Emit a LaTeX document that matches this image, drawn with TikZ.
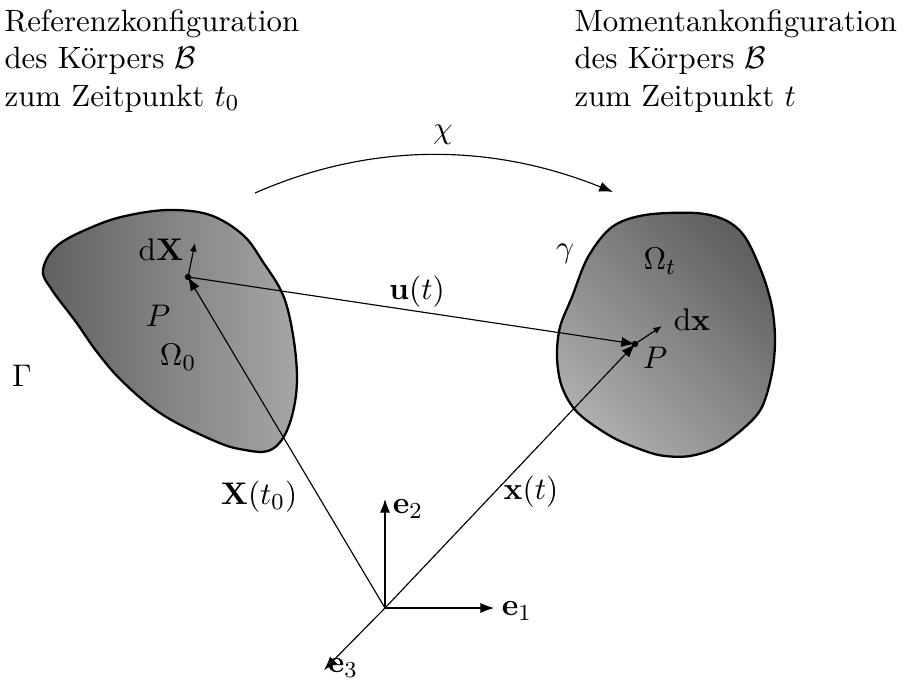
\documentclass[tikz,border=0pt]{standalone}
\usepackage{amsmath}
\usetikzlibrary{arrows.meta}
\begin{document}
\begin{tikzpicture}[x=0.35pt,y=-0.35pt,
  font=\fontsize{10.8}{13.1}\selectfont,
  vec/.style={line width=0.4pt,-{Latex[length=4.8pt,width=3.6pt]}},
  small/.style={line width=0.4pt,-{Latex[length=3pt,width=2.4pt]}},
  outline/.style={line width=0.8pt},
  lbl/.style={inner sep=0pt},
  head/.style={inner sep=0pt,anchor=north west,align=left}]
\useasboundingbox (0,0) rectangle (905,682);
% left body
\shadedraw[left color=black!62,right color=black!35,outline] plot[smooth cycle,tension=0.6] coordinates{
 (43,270) (58,245) (97,225) (130,215) (170,210) (210,215) (243,235) (263,262)
 (283,295) (293,335) (297,378) (293,412) (283,438) (268,451) (245,450) (217,442) (163,415)
 (123,382) (97,352) (76,322) (52,290)};
% right body
\shadedraw[top color=black!62,bottom color=black!32,shading angle=-45,outline] plot[smooth cycle,tension=0.55] coordinates{
 (612,227) (645,215) (695,213) (725,220) (745,237) (762,273) (772,307) (775,340)
 (772,373) (762,407) (745,427) (718,447) (690,456) (665,456) (645,451) (612,437)
 (578,413) (562,387) (557,357) (560,327) (572,297) (588,257)};
% points
\coordinate (O) at (385,608);
\coordinate (P1) at (188,277);
\coordinate (P2) at (635,344);
\coordinate (dXe) at (195,243);
\coordinate (dxe) at (662,326);
\coordinate (e1e) at (494,608);
\coordinate (e2e) at (385,499);
\coordinate (e3e) at (324,670);
\coordinate (chiA) at (255,193);
\coordinate (chiB) at (613,192);
% vectors
\draw[vec] (O) -- (P1);
\draw[vec] (O) -- (P2);
\draw[vec] (P1) -- (P2);
\draw[small] (P1) -- (dXe);
\draw[small] (P2) -- (dxe);
\draw[vec] (O) -- (e1e);
\draw[vec] (O) -- (e2e);
\draw[vec] (O) -- (e3e);
\fill (P1) circle (3.2);
\fill (P2) circle (3.2);
\draw[vec] (chiA) .. controls (369,143) and (489,142) .. (chiB);
% labels
\node[head] (ref) at (4,9) {Referenzkonfiguration\\des Körpers $\mathcal{B}$\\zum Zeitpunkt $t_0$};
\node[head] (mom) at (574,9) {Momentankonfiguration\\des Körpers $\mathcal{B}$\\zum Zeitpunkt $t$};
\node[lbl] (chi) at (443,135) {$\chi$};
\node[lbl] (dX) at (161,250) {$\mathrm{d}\mathbf{X}$};
\node[lbl] (Pl) at (158,316) {$P$};
\node[lbl] (Om0) at (178,357) {$\Omega_0$};
\node[lbl] (Gam) at (22,376) {$\Gamma$};
\node[lbl] (u) at (417,292) {$\mathbf{u}(t)$};
\node[lbl] (gam) at (565,254) {$\gamma$};
\node[lbl] (Omt) at (660,261) {$\Omega_t$};
\node[lbl] (dx) at (692,320) {$\mathrm{d}\mathbf{x}$};
\node[lbl] (Pr) at (655,358) {$P$};
\node[lbl] (Xt) at (259,497) {$\mathbf{X}(t_0)$};
\node[lbl] (xt) at (531,492) {$\mathbf{x}(t)$};
\node[lbl] (e2) at (408,509) {$\mathbf{e}_2$};
\node[lbl] (e1) at (517,611) {$\mathbf{e}_1$};
\node[lbl] (e3) at (343,668) {$\mathbf{e}_3$};
\end{tikzpicture}
\end{document}
